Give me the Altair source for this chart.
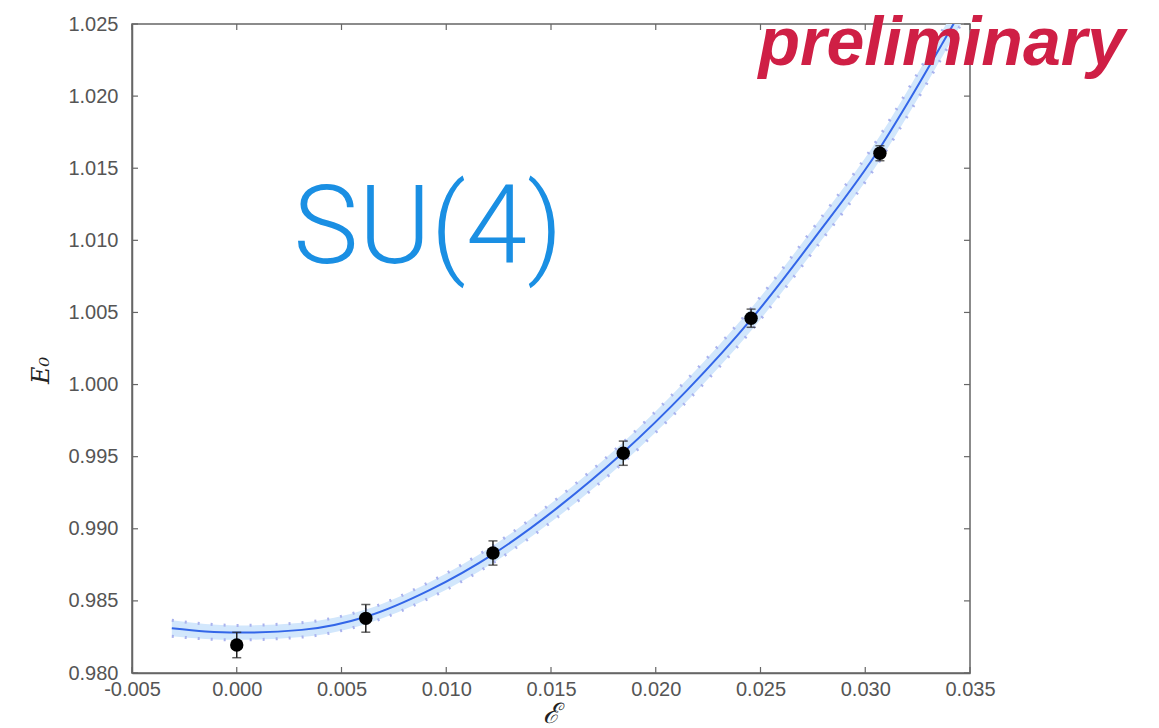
import altair as alt
import pandas as pd

# ---- measured data points ----
pt_x = [0.0000, 0.00616, 0.01223, 0.01845, 0.02455, 0.0307]
pt_y = [0.98194, 0.98379, 0.98832, 0.99524, 1.00460, 1.01604]
pt_err = [0.00088, 0.00096, 0.00084, 0.00084, 0.00063, 0.00052]

# ---- fit curve and band ----
fit_x = [-0.0031, -0.0015, 0.0, 0.0031, 0.0062, 0.0092, 0.0123, 0.0153,
         0.0184, 0.0215, 0.0246, 0.0276, 0.0307, 0.0322, 0.0337, 0.0350]
fit_y = [0.98310, 0.98288, 0.98280, 0.98299, 0.98392, 0.98575, 0.98830, 0.99145,
         0.99523, 0.99961, 1.00460, 1.01020, 1.01640, 1.01995, 1.02370, 1.02700]
fit_half = [0.00055, 0.00052, 0.00050, 0.00050, 0.00050, 0.00055, 0.00060, 0.00065,
            0.00070, 0.00075, 0.00078, 0.00080, 0.00085, 0.00088, 0.00090, 0.00092]

# ---- axis ticks ----
x_ticks = [-0.005, 0.0, 0.005, 0.010, 0.015, 0.020, 0.025, 0.030, 0.035]
y_ticks = [0.980, 0.985, 0.990, 0.995, 1.000, 1.005, 1.010, 1.015, 1.020, 1.025]

# ---- annotations ----
ann_text = ["SU(4)", "preliminary"]
ann_x = [0.00270, 0.02490]
ann_y = [1.00843, 1.02216]

W, H = 838, 649
XD = [-0.005, 0.035]
YD = [0.980, 1.025]

pts = pd.DataFrame({"x": pt_x, "y": pt_y, "err": pt_err})
pts["lo"] = pts["y"] - pts["err"]
pts["hi"] = pts["y"] + pts["err"]
fit = pd.DataFrame({"x": fit_x, "y": fit_y, "h": fit_half})
fit["lo"] = fit["y"] - fit["h"]
fit["hi"] = fit["y"] + fit["h"]

xs = alt.Scale(domain=XD, nice=False, zero=False)
ys = alt.Scale(domain=YD, nice=False, zero=False)

lab_font = "Liberation Sans"
lab_expr = "replace(format(datum.value, '.3f'), '\u2212', '-')"
xaxis = alt.Axis(values=x_ticks, labelExpr=lab_expr, title="ℰ", grid=False, tickSize=0,
                 labelFont=lab_font, labelFontSize=20, labelColor="#555555",
                 labelPadding=6, labelOverlap=False, labelFlush=False,
                 domainColor="#666666", domainWidth=1.5,
                 titleFont="DejaVu Serif", titleFontSize=28, titleFontWeight="normal",
                 titleFontStyle="italic", titleColor="#222222", titlePadding=1)
yaxis = alt.Axis(values=y_ticks, labelExpr=lab_expr, title="E₀", grid=False, tickSize=0,
                 labelFont=lab_font, labelFontSize=20, labelColor="#555555",
                 labelPadding=14, labelOverlap=False, labelFlush=False,
                 domainColor="#666666", domainWidth=1.5,
                 titleFont="DejaVu Serif", titleFontSize=24, titleFontWeight="normal",
                 titleFontStyle="italic", titleColor="#222222", titlePadding=14,
                 titleY=346)

base = alt.Chart(fit)

band = base.mark_area(color="#d2e7fc", opacity=1, clip=True, interpolate="monotone").encode(
    x=alt.X("x:Q", scale=xs, axis=xaxis),
    y=alt.Y("lo:Q", scale=ys, axis=yaxis),
    y2="hi:Q",
)
edge_lo = base.mark_line(color="#a9b2ee", strokeWidth=3, strokeDash=[2, 11], clip=True,
                         interpolate="monotone").encode(
    x=alt.X("x:Q", scale=xs), y=alt.Y("lo:Q", scale=ys))
edge_hi = base.mark_line(color="#a9b2ee", strokeWidth=3, strokeDash=[2, 11], clip=True,
                         interpolate="monotone").encode(
    x=alt.X("x:Q", scale=xs), y=alt.Y("hi:Q", scale=ys))
line = base.mark_line(color="#3366e8", strokeWidth=2, clip=True, interpolate="monotone").encode(
    x=alt.X("x:Q", scale=xs), y=alt.Y("y:Q", scale=ys))

pbase = alt.Chart(pts)
ebar = pbase.mark_rule(color="#222222", strokeWidth=1.5).encode(
    x=alt.X("x:Q", scale=xs), y=alt.Y("lo:Q", scale=ys), y2="hi:Q")
cap_lo = pbase.mark_tick(color="#222222", orient="horizontal", size=9, thickness=1.5).encode(
    x=alt.X("x:Q", scale=xs), y=alt.Y("lo:Q", scale=ys))
cap_hi = pbase.mark_tick(color="#222222", orient="horizontal", size=9, thickness=1.5).encode(
    x=alt.X("x:Q", scale=xs), y=alt.Y("hi:Q", scale=ys))
dots = pbase.mark_circle(color="#000000", opacity=1, size=180).encode(
    x=alt.X("x:Q", scale=xs), y=alt.Y("y:Q", scale=ys))

# inward ticks on all four sides
xt = pd.DataFrame({"v": x_ticks})
yt = pd.DataFrame({"v": y_ticks})
tick_style = dict(color="#666666", strokeWidth=1.2)
t_bottom = alt.Chart(xt).mark_rule(**tick_style).encode(
    x=alt.X("v:Q", scale=xs), y=alt.value(H), y2=alt.value(H - 6))
t_top = alt.Chart(xt).mark_rule(**tick_style).encode(
    x=alt.X("v:Q", scale=xs), y=alt.value(0), y2=alt.value(6))
t_left = alt.Chart(yt).mark_rule(**tick_style).encode(
    y=alt.Y("v:Q", scale=ys), x=alt.value(0), x2=alt.value(6))
t_right = alt.Chart(yt).mark_rule(**tick_style).encode(
    y=alt.Y("v:Q", scale=ys), x=alt.value(W), x2=alt.value(W - 6))

ann = pd.DataFrame({"t": ann_text, "x": ann_x, "y": ann_y})
su4 = alt.Chart(ann[ann.t == "SU(4)"]).mark_text(
    font="Roboto", fontSize=110, fontWeight=300, color="#1a8fe3",
    align="left", baseline="alphabetic").encode(
    x=alt.X("x:Q", scale=xs), y=alt.Y("y:Q", scale=ys), text="t:N")
prelim = alt.Chart(ann[ann.t == "preliminary"]).mark_text(
    font="Liberation Sans", fontSize=68, fontWeight="bold", fontStyle="italic",
    color="#cf1f45", align="left", baseline="alphabetic").encode(
    x=alt.X("x:Q", scale=xs), y=alt.Y("y:Q", scale=ys), text="t:N")

chart = alt.layer(
    band, edge_lo, edge_hi, line, ebar, cap_lo, cap_hi, dots,
    t_bottom, t_top, t_left, t_right, su4, prelim
).properties(
    width=W, height=H,
    autosize=alt.AutoSizeParams(type="none"),
    padding={"left": 132, "top": 24, "right": 189, "bottom": 55},
    background="white",
).configure_view(stroke="#666666", strokeWidth=1.5)

chart.save("out.html", embed_options={"renderer": "svg", "actions": False})
